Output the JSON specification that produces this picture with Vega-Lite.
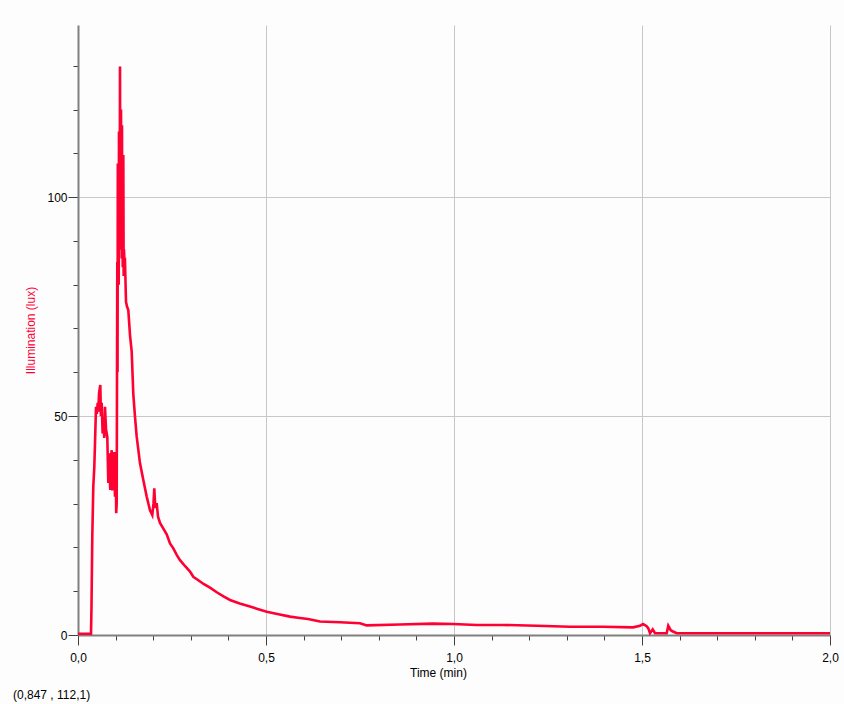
{
  "$schema": "https://vega.github.io/schema/vega-lite/v6.json",
  "width": 752,
  "height": 610,
  "autosize": {"type": "none"},
  "padding": {"left": 78, "top": 25, "right": 14, "bottom": 69},
  "background": "#fdfdfd",
  "config": {
    "view": {"stroke": null},
    "font": "Liberation Sans"
  },
  "title": {
    "text": "(0,847 , 112,1)",
    "orient": "bottom",
    "anchor": "start",
    "frame": "bounds",
    "dx": -12,
    "offset": 12,
    "fontSize": 12,
    "fontWeight": "normal",
    "color": "#000000",
    "font": "Liberation Sans"
  },
  "data": {
    "values": [
      {"t": 0.0, "lux": 0.3},
      {"t": 0.0346, "lux": 0.3},
      {"t": 0.0359, "lux": 6.5},
      {"t": 0.038, "lux": 22.4},
      {"t": 0.0407, "lux": 33.9},
      {"t": 0.0434, "lux": 38.4},
      {"t": 0.0452, "lux": 43.8},
      {"t": 0.0479, "lux": 52.1},
      {"t": 0.05, "lux": 50.5},
      {"t": 0.0524, "lux": 53.0},
      {"t": 0.054, "lux": 51.0},
      {"t": 0.0559, "lux": 55.2},
      {"t": 0.0593, "lux": 57.1},
      {"t": 0.061, "lux": 50.0},
      {"t": 0.063, "lux": 53.0},
      {"t": 0.0655, "lux": 46.0},
      {"t": 0.0673, "lux": 49.1},
      {"t": 0.07, "lux": 45.0},
      {"t": 0.0718, "lux": 52.1},
      {"t": 0.0745, "lux": 47.0},
      {"t": 0.0779, "lux": 45.3},
      {"t": 0.0806, "lux": 34.7},
      {"t": 0.0832, "lux": 41.5},
      {"t": 0.0845, "lux": 36.0},
      {"t": 0.0859, "lux": 33.1},
      {"t": 0.0878, "lux": 40.5},
      {"t": 0.0896, "lux": 42.2},
      {"t": 0.091, "lux": 33.0},
      {"t": 0.0923, "lux": 35.0},
      {"t": 0.0944, "lux": 41.0},
      {"t": 0.0955, "lux": 34.0},
      {"t": 0.0965, "lux": 41.8},
      {"t": 0.0984, "lux": 31.6},
      {"t": 0.0995, "lux": 39.0},
      {"t": 0.1003, "lux": 40.0},
      {"t": 0.1016, "lux": 27.8},
      {"t": 0.1029, "lux": 30.1},
      {"t": 0.1045, "lux": 85.2},
      {"t": 0.1052, "lux": 60.0},
      {"t": 0.1059, "lux": 107.7},
      {"t": 0.1066, "lux": 84.0},
      {"t": 0.1077, "lux": 95.0},
      {"t": 0.1083, "lux": 80.0},
      {"t": 0.109, "lux": 115.0},
      {"t": 0.1097, "lux": 88.0},
      {"t": 0.1104, "lux": 105.0},
      {"t": 0.111, "lux": 95.0},
      {"t": 0.1117, "lux": 129.8},
      {"t": 0.1124, "lux": 100.0},
      {"t": 0.113, "lux": 110.0},
      {"t": 0.1137, "lux": 90.0},
      {"t": 0.1144, "lux": 120.0},
      {"t": 0.115, "lux": 92.0},
      {"t": 0.1157, "lux": 100.0},
      {"t": 0.1163, "lux": 86.0},
      {"t": 0.117, "lux": 116.4},
      {"t": 0.1177, "lux": 88.0},
      {"t": 0.1184, "lux": 92.0},
      {"t": 0.119, "lux": 84.0},
      {"t": 0.1197, "lux": 100.0},
      {"t": 0.1205, "lux": 109.6},
      {"t": 0.1214, "lux": 82.0},
      {"t": 0.1223, "lux": 88.0},
      {"t": 0.1237, "lux": 85.0},
      {"t": 0.125, "lux": 85.2},
      {"t": 0.1277, "lux": 76.1},
      {"t": 0.1303, "lux": 75.0},
      {"t": 0.1338, "lux": 74.2},
      {"t": 0.1383, "lux": 68.5},
      {"t": 0.1428, "lux": 64.7},
      {"t": 0.1471, "lux": 55.0},
      {"t": 0.1516, "lux": 49.8},
      {"t": 0.1561, "lux": 45.3},
      {"t": 0.1649, "lux": 39.2},
      {"t": 0.1737, "lux": 35.4},
      {"t": 0.1827, "lux": 31.6},
      {"t": 0.1915, "lux": 28.5},
      {"t": 0.1976, "lux": 27.4},
      {"t": 0.2008, "lux": 30.0},
      {"t": 0.2029, "lux": 33.5},
      {"t": 0.2056, "lux": 29.0},
      {"t": 0.2093, "lux": 30.1},
      {"t": 0.2128, "lux": 27.0},
      {"t": 0.2181, "lux": 25.6},
      {"t": 0.227, "lux": 24.3},
      {"t": 0.2359, "lux": 23.0},
      {"t": 0.2447, "lux": 20.9},
      {"t": 0.2535, "lux": 19.8},
      {"t": 0.2625, "lux": 18.3},
      {"t": 0.2713, "lux": 17.1},
      {"t": 0.285, "lux": 15.7},
      {"t": 0.2979, "lux": 14.5},
      {"t": 0.3066, "lux": 13.3},
      {"t": 0.32, "lux": 12.5},
      {"t": 0.335, "lux": 11.6},
      {"t": 0.3511, "lux": 10.8},
      {"t": 0.37, "lux": 9.7},
      {"t": 0.387, "lux": 8.8},
      {"t": 0.4043, "lux": 8.0},
      {"t": 0.43, "lux": 7.2},
      {"t": 0.4574, "lux": 6.5},
      {"t": 0.48, "lux": 5.9},
      {"t": 0.5019, "lux": 5.3},
      {"t": 0.53, "lux": 4.8},
      {"t": 0.5638, "lux": 4.2},
      {"t": 0.59, "lux": 3.9},
      {"t": 0.6117, "lux": 3.65},
      {"t": 0.6436, "lux": 3.1},
      {"t": 0.6968, "lux": 2.9},
      {"t": 0.75, "lux": 2.7},
      {"t": 0.7678, "lux": 2.2},
      {"t": 0.8564, "lux": 2.4},
      {"t": 0.9441, "lux": 2.6},
      {"t": 0.9973, "lux": 2.5},
      {"t": 1.0604, "lux": 2.3},
      {"t": 1.1303, "lux": 2.3},
      {"t": 1.2199, "lux": 2.1},
      {"t": 1.3085, "lux": 1.9},
      {"t": 1.3963, "lux": 1.9},
      {"t": 1.4761, "lux": 1.75},
      {"t": 1.4947, "lux": 2.1},
      {"t": 1.5027, "lux": 2.5},
      {"t": 1.5125, "lux": 2.0},
      {"t": 1.5168, "lux": 1.5},
      {"t": 1.5213, "lux": 0.4},
      {"t": 1.5285, "lux": 1.3},
      {"t": 1.5346, "lux": 0.4},
      {"t": 1.5657, "lux": 0.4},
      {"t": 1.5699, "lux": 2.1},
      {"t": 1.5763, "lux": 1.1},
      {"t": 1.5824, "lux": 0.8},
      {"t": 1.5923, "lux": 0.4},
      {"t": 2.0, "lux": 0.4}
    ]
  },
  "mark": {"type": "line", "color": "#ff0033", "strokeWidth": 2.6, "interpolate": "linear"},
  "encoding": {
    "x": {
      "field": "t",
      "type": "quantitative",
      "scale": {"domain": [0, 2], "nice": false, "zero": false},
      "axis": {
        "title": "Time (min)",
        "titleFont": "Liberation Sans",
        "titleFontSize": 12,
        "titleFontWeight": "normal",
        "titleColor": "#000000",
        "titlePadding": 4,
        "titleX": 360,
        "values": [0, 0.1, 0.2, 0.3, 0.4, 0.5, 0.6, 0.7, 0.8, 0.9, 1.0, 1.1, 1.2, 1.3, 1.4, 1.5, 1.6, 1.7, 1.8, 1.9, 2.0],
        "labelExpr": "abs(datum.value*2 - round(datum.value*2)) < 0.001 ? replace(format(datum.value, '.1f'), '.', ',') : ''",
        "labelFont": "Liberation Sans",
        "labelFontSize": 12,
        "labelColor": "#000000",
        "labelPadding": 7,
        "labelFlush": false,
        "labelOverlap": false,
        "domainColor": "#808080",
        "domainWidth": 2,
        "tickColor": "#404040",
        "tickWidth": 1,
        "tickSize": {"condition": {"test": "abs(datum.value*2 - round(datum.value*2)) < 0.001", "value": 10}, "value": 5},
        "grid": true,
        "gridColor": "#c8c8c8",
        "gridWidth": 1,
        "gridOpacity": {"condition": {"test": "abs(datum.value*2 - round(datum.value*2)) < 0.001 && datum.value > 0.01", "value": 1}, "value": 0}
      }
    },
    "y": {
      "field": "lux",
      "type": "quantitative",
      "scale": {"domain": [0, 139.3], "nice": false},
      "axis": {
        "title": "Illumination (lux)",
        "titleFont": "Liberation Sans",
        "titleFontSize": 12,
        "titleFontWeight": "normal",
        "titleColor": "#ff0033",
        "titlePadding": 9,
        "values": [0, 10, 20, 30, 40, 50, 60, 70, 80, 90, 100, 110, 120, 130],
        "labelExpr": "datum.value % 50 == 0 ? format(datum.value, 'd') : ''",
        "labelFont": "Liberation Sans",
        "labelFontSize": 12,
        "labelColor": "#000000",
        "labelPadding": 1,
        "domainColor": "#808080",
        "domainWidth": 2,
        "tickColor": "#404040",
        "tickWidth": 1,
        "tickSize": {"condition": {"test": "datum.value % 50 == 0", "value": 10}, "value": 5},
        "grid": true,
        "gridColor": "#c8c8c8",
        "gridWidth": 1,
        "gridOpacity": {"condition": {"test": "datum.value % 50 == 0 && datum.value > 0", "value": 1}, "value": 0}
      }
    }
  }
}
